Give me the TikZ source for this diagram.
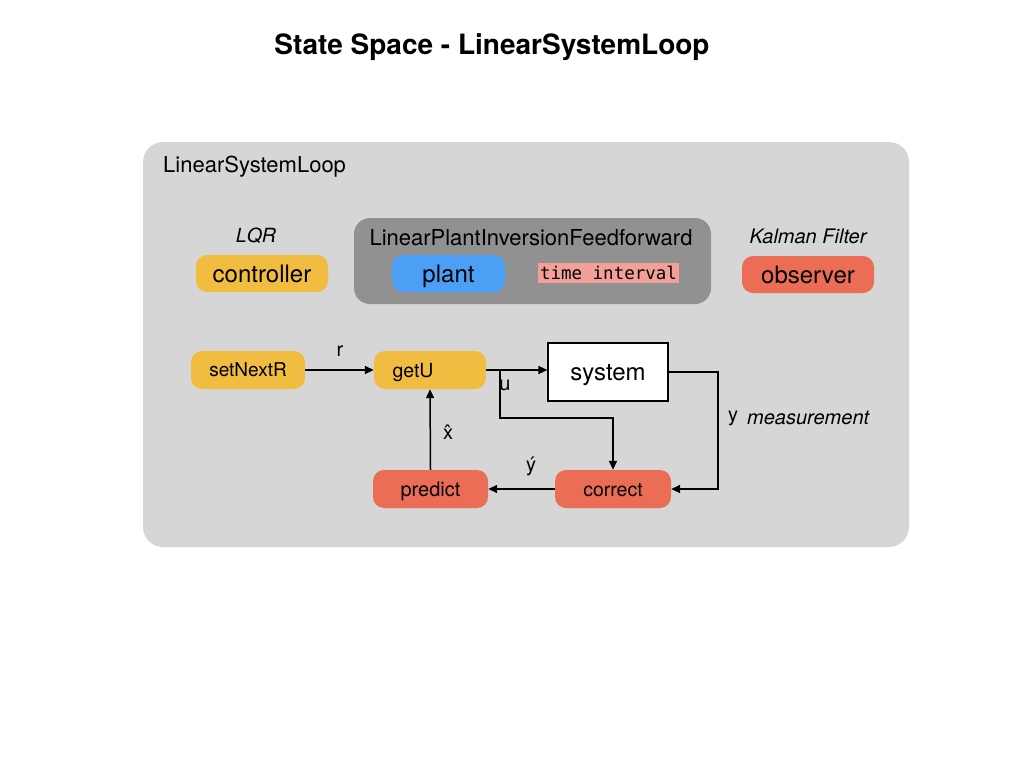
\documentclass[tikz,border=0pt]{standalone}
\usepackage{fontspec}
\setmainfont{TeX Gyre Heros}
\newfontfamily\monofont{DejaVu Sans Mono}
\usetikzlibrary{arrows.meta}
\definecolor{outerbg}{HTML}{D6D6D6}
\definecolor{darkbg}{HTML}{919191}
\definecolor{goldc}{HTML}{F0BD41}
\definecolor{redc}{HTML}{EC6D55}
\definecolor{bluec}{HTML}{4BA0F6}
\definecolor{pinkc}{HTML}{F3A099}
\newcommand{\fs}[1]{\fontsize{#1}{#1}\selectfont}
\tikzset{
  pill/.style={rounded corners=11pt, inner sep=0pt, text=black, text depth=0pt},
  goldbox/.style={pill, fill=goldc},
  redbox/.style={pill, fill=redc},
  lbl/.style={inner sep=0pt, text=black},
  arr/.style={line width=1.5pt, -{Triangle[length=9pt,width=8pt]}},
  ln/.style={line width=1.5pt}
}
\begin{document}
\begin{tikzpicture}[x=1pt,y=-1pt]
\useasboundingbox (0,0) rectangle (1024,768);
\fill[white] (0,0) rectangle (1024,768);
% title
\node[lbl, font=\bfseries\fs{28}] (title) at (492,47) {State Space - LinearSystemLoop};
% outer container
\node[fill=outerbg, rounded corners=20pt, minimum width=766pt, minimum height=405pt, inner sep=0pt] (outer) at (526,344.5) {};
\node[lbl, anchor=west, font=\fs{22}] (outerlbl) at (163,167) {LinearSystemLoop};
% controller
\node[lbl, font=\itshape\fs{19.5}] (lqr) at (256,236) {LQR};
\node[goldbox, minimum width=132pt, minimum height=37pt, font=\fs{24}, text height=17.3pt] (controller) at (262,273.5) {controller};
% feedforward
\node[fill=darkbg, rounded corners=16pt, minimum width=357pt, minimum height=86pt, inner sep=0pt] (ff) at (532.5,261) {};
\node[lbl, font=\fs{22}] (fflbl) at (531,238) {LinearPlantInversionFeedforward};
\node[pill, fill=bluec, minimum width=113pt, minimum height=37pt, font=\fs{24}, text height=17.3pt] (plant) at (448.5,273.5) {plant};
\node[fill=pinkc, inner sep=0pt, minimum width=141pt, minimum height=20pt, font=\monofont\fs{17.5}] (ti) at (608.5,273) {time interval};
% observer
\node[lbl, font=\itshape\fs{20}] (kf) at (808,236) {Kalman Filter};
\node[redbox, minimum width=132pt, minimum height=37pt, font=\fs{24}, text height=17.3pt] (observer) at (808,274.5) {observer};
% loop
\node[goldbox, minimum width=114pt, minimum height=38pt, font=\fs{19}, text height=13.7pt] (setNextR) at (248,370) {setNextR};
\node[goldbox, minimum width=112pt, minimum height=38pt, font=\fs{19.5}, text height=14pt] (getU) at (430,370) {\hspace*{-34pt}getU};
\node[draw=black, line width=1.2pt, fill=white, inner sep=0pt, minimum width=120pt, minimum height=58pt, font=\fs{24}, text height=17.3pt, text depth=0pt] (system) at (608,372) {system};
\node[redbox, minimum width=115pt, minimum height=38pt, font=\fs{20}, text height=14.4pt] (predict) at (430.5,489) {predict};
\node[redbox, minimum width=116pt, minimum height=38pt, font=\fs{19.5}, text height=14pt] (correct) at (613,489) {correct};
% connectors
\draw[arr] (setNextR.east) -- (getU.west);
\draw[arr] (getU.east) -- (getU.east -| system.west);
\coordinate (br) at (500,370);
\coordinate (brdown) at (500,418);
\draw[arr] (br) -- (brdown) -| (correct.north);
\coordinate (ycorner) at (718,372);
\draw[arr] (system.east) -- (ycorner) |- (correct.east);
\draw[arr] (correct.west) -- (predict.east);
\draw[arr] (predict.north) -- (getU.south);
% labels
\node[lbl, font=\fs{20}] (rl) at (340,351) {r};
\node[lbl, font=\fs{20}] (ul) at (505,385) {u};
\node[lbl, font=\fs{20}] (yhl) at (531,466) {ý};
\node[lbl, font=\fs{20}] (xhl) at (448,432) {\^{x}};
\node[lbl, anchor=west, font=\fs{20}] (yl) at (728,418) {y};
\node[lbl, anchor=west, font=\itshape\fs{20}] (ml) at (747,418) {measurement};
\end{tikzpicture}
\end{document}
